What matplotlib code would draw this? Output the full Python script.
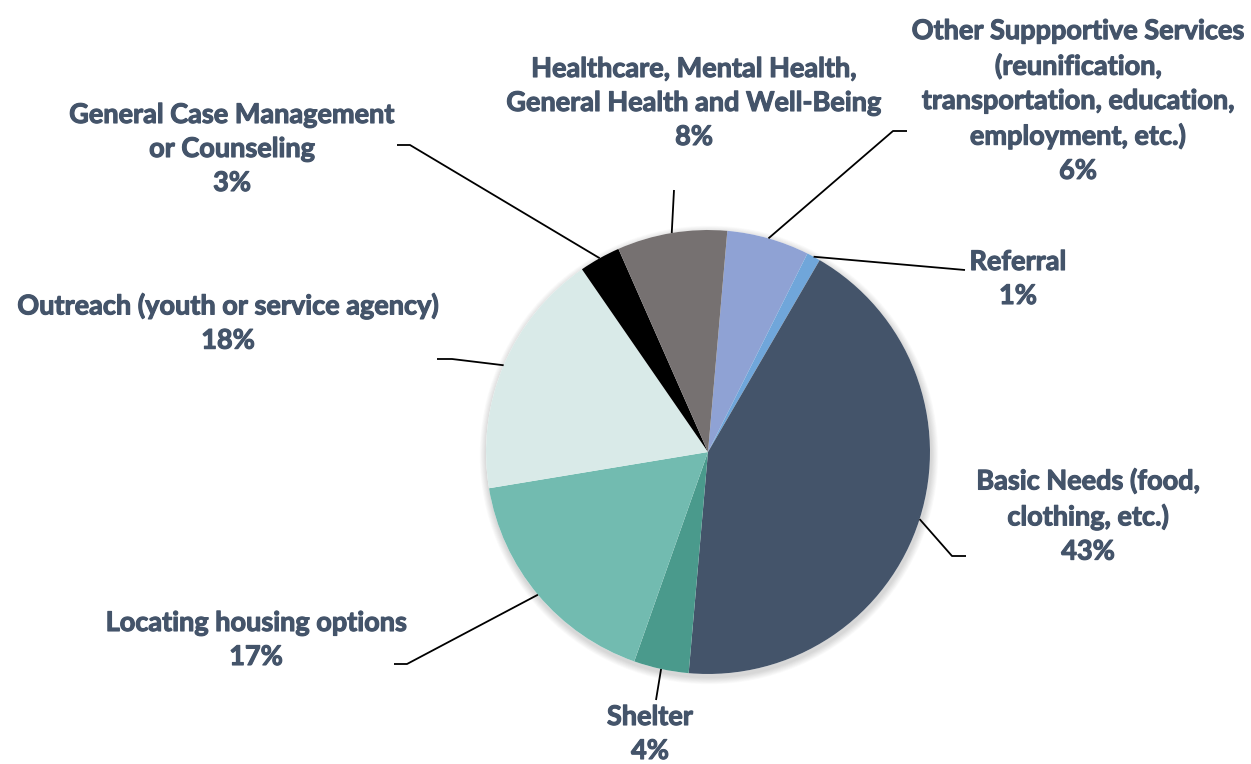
import matplotlib.pyplot as plt
import matplotlib.patheffects as pe
import numpy as np
from matplotlib.patches import Circle

# share of services, clockwise from the top
labels = [
    "Other Suppportive Services\n(reunification,\ntransportation, education,\nemployment, etc.)",
    "Referral",
    "Basic Needs (food,\nclothing, etc.)",
    "Shelter",
    "Locating housing options",
    "Outreach (youth or service agency)",
    "General Case Management\nor Counseling",
    "Healthcare, Mental Health,\nGeneral Health and Well-Being",
]
shares = [6, 1, 43, 4, 17, 18, 3, 8]
colors = ["#8FA2D4", "#70A6DA", "#44546A", "#4A9A8C",
          "#72BBB0", "#D9EAE8", "#000000", "#767171"]

# label block centre and leader path (label side), in pixels from top-left
label_pos = [(1078, 101), (1018, 279), (1088, 516), (650, 734),
             (256, 640), (228, 323), (232, 149), (694, 103)]
leader_pts = [[(907, 131), (893, 131)],
              [(965, 270)],
              [(966, 556), (952, 556)],
              [(656, 700)],
              [(394, 664), (407, 664)],
              [(437, 359), (452, 359)],
              [(397, 145), (410, 145)],
              [(674, 190)]]

W, H = 1251, 764
cx, cy, r = 708, H - 452, 222
text_color = "#44546A"

fig = plt.figure(figsize=(W / 100, H / 100), dpi=100)
ax = fig.add_axes([0, 0, 1, 1])

# soft shadow behind the pie
for i in range(10):
    ax.add_patch(Circle((cx + 1, cy - 3), r + 1 + i * 0.7, color="black",
                        alpha=0.016, lw=0, zorder=1))
ax.add_patch(Circle((cx, cy), r, color="white", lw=0, zorder=1.5))

wedges, _ = ax.pie(shares, colors=colors, startangle=85, counterclock=False,
                   center=(cx, cy), radius=r, frame=True,
                   wedgeprops=dict(linewidth=0, zorder=2))
ax.set_xlim(0, W)
ax.set_ylim(0, H)
ax.set_aspect("equal")
ax.axis("off")

bolder = [pe.withStroke(linewidth=0.8, foreground=text_color)]
for w, lab, val, pos, pts in zip(wedges, labels, shares, label_pos, leader_pts):
    mid = np.deg2rad((w.theta1 + w.theta2) / 2)
    px, py = cx + r * np.cos(mid), cy + r * np.sin(mid)
    xs = [p[0] for p in reversed(pts)]
    ys = [H - p[1] for p in reversed(pts)]
    ax.plot([px] + xs, [py] + ys, color="black", lw=1.3, zorder=3,
            solid_capstyle="butt")
    ax.text(pos[0], H - pos[1], f"{lab}\n{val}%", ha="center", va="center",
            multialignment="center", fontsize=19.5, fontweight="bold",
            family="Lato", color=text_color, linespacing=1.5,
            path_effects=bolder)

fig.savefig("out.png", dpi=100)
